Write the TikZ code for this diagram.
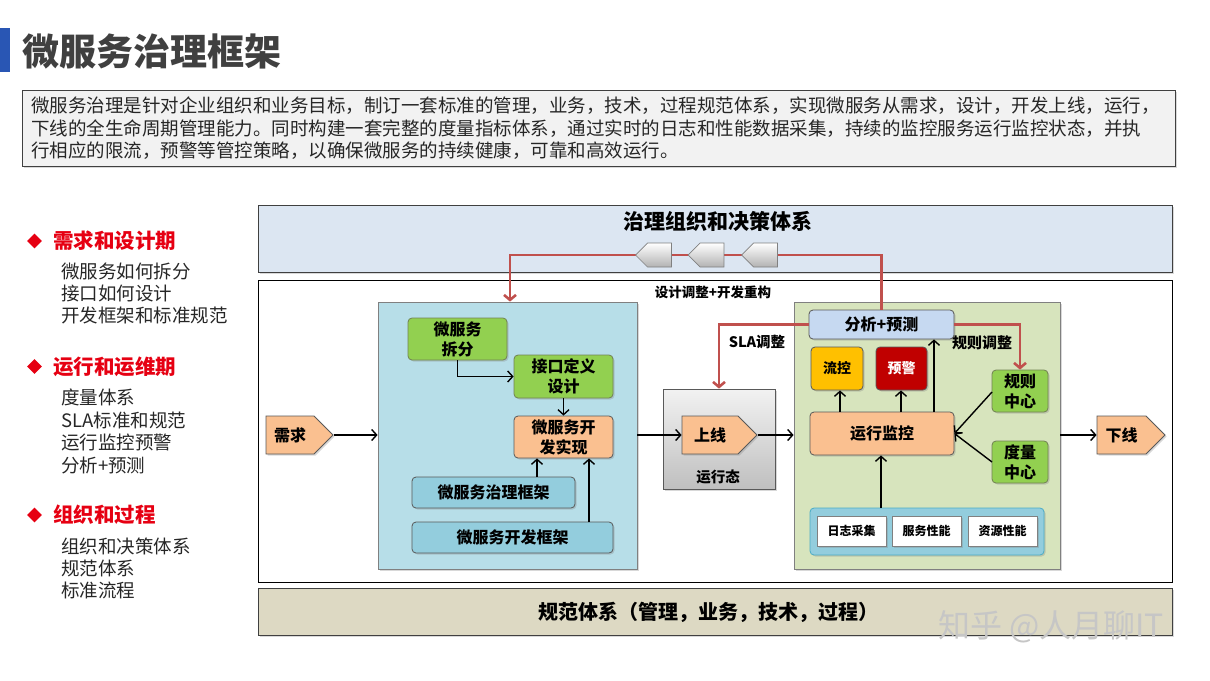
\documentclass[tikz,border=0pt]{standalone}
\usepackage{fontspec}
\setmainfont{Noto Sans CJK SC}
\usetikzlibrary{arrows.meta,shapes.symbols,shapes.geometric,shadows}
\definecolor{titleblue}{RGB}{41,86,180}
\definecolor{titlegray}{RGB}{64,64,64}
\definecolor{descgray}{RGB}{242,242,242}
\definecolor{txt}{RGB}{38,38,38}
\definecolor{cred}{RGB}{230,0,18}
\definecolor{bandblue}{RGB}{220,230,242}
\definecolor{devblue}{RGB}{183,222,232}
\definecolor{cgreen}{RGB}{146,208,80}
\definecolor{cgreenb}{RGB}{79,98,40}
\definecolor{corange}{RGB}{250,192,144}
\definecolor{fwblue}{RGB}{147,205,221}
\definecolor{opsgreen}{RGB}{215,228,189}
\definecolor{fxblue}{RGB}{198,217,241}
\definecolor{cyellow}{RGB}{255,192,0}
\definecolor{cdarkred}{RGB}{192,0,0}
\definecolor{panelblue}{RGB}{147,205,221}
\definecolor{panelblueb}{RGB}{75,172,198}
\definecolor{beige}{RGB}{221,217,195}
\definecolor{redline}{RGB}{192,80,77}
\definecolor{bord}{RGB}{89,89,89}
\newcommand\fsz[1]{\fontsize{#1}{#1}\selectfont}
\newcommand\fszl[2]{\fontsize{#1}{#2}\selectfont}
\tikzset{
  shd/.style={drop shadow={opacity=0.3,shadow xshift=1.5pt,shadow yshift=-1.5pt}},
  rbox/.style={rectangle, rounded corners=4pt, draw=bord, line width=0.8pt, inner sep=0pt,
    align=center, font=\bfseries\fszl{16}{20}, text=black, shd},
  greenbox/.style={rbox, fill=cgreen, draw=cgreenb!80},
  orangebox/.style={rbox, fill=corange},
  fwbox/.style={rbox, fill=fwblue},
  smallbox/.style={rectangle, draw=gray, fill=white, line width=0.6pt, inner sep=0pt,
    minimum width=69, minimum height=30, font=\bfseries\fsz{12}, shd},
  pent/.style={signal, signal from=nowhere, signal to=east, signal pointer angle=90,
    draw=bord, line width=0.8pt, fill=corange, inner sep=0pt, font=\bfseries\fsz{16}, shd},
  gpent/.style={signal, signal from=nowhere, signal to=west, signal pointer angle=90,
    draw=gray, line width=0.7pt, top color=white, bottom color=gray!60, inner sep=0pt,
    minimum width=36, minimum height=24},
  arr/.style={line width=1.4pt, -{Straight Barb[length=5pt,width=11pt]}},
  rarr/.style={line width=2.6pt, redline, -{Straight Barb[length=5pt,width=12pt]}},
  sub/.style={anchor=west, inner sep=0pt, font=\fsz{18.5}, text=txt},
  hdr/.style={anchor=west, inner sep=0pt, font=\bfseries\fsz{20.5}, text=cred},
  dia/.style={diamond, fill=cred, minimum width=15, minimum height=15, inner sep=0pt},
  dline/.style={anchor=west, inner sep=0pt, font=\fsz{18.5}, text=txt},
  lbl/.style={inner sep=0pt, font=\bfseries\fsz{14}, text=black}
}
\begin{document}
\begin{tikzpicture}[x=1pt,y=-1pt]
\useasboundingbox (0,0) rectangle (1210,680);
% title
\fill[titleblue] (0,28) rectangle (10,72);
\node[anchor=west, inner sep=0pt, font=\bfseries\fsz{37}, text=titlegray] (title) at (22,51) {微服务治理框架};
% description
\node[draw=titlegray, fill=descgray, line width=0.8pt, minimum width=1153, minimum height=76, inner sep=0pt, shd] (desc) at (598.5,128) {};
\node[dline] (d1) at (31,106) {微服务治理是针对企业组织和业务目标，制订一套标准的管理，业务，技术，过程规范体系，实现微服务从需求，设计，开发上线，运行，};
\node[dline] (d2) at (31,128.5) {下线的全生命周期管理能力。同时构建一套完整的度量指标体系，通过实时的日志和性能数据采集，持续的监控服务运行监控状态，并执};
\node[dline] (d3) at (31,151) {行相应的限流，预警等管控策略，以确保微服务的持续健康，可靠和高效运行。};
% left column
\node[dia] (dm1) at (34.5,241) {};
\node[hdr] (h1) at (53,241) {需求和设计期};
\node[sub] (s11) at (61,271.5) {微服务如何拆分};
\node[sub] (s12) at (61,293.5) {接口如何设计};
\node[sub] (s13) at (61,315.5) {开发框架和标准规范};
\node[dia] (dm2) at (34.5,366.5) {};
\node[hdr] (h2) at (53,366.5) {运行和运维期};
\node[sub] (s21) at (61,397.5) {度量体系};
\node[sub] (s22) at (61,420) {SLA标准和规范};
\node[sub] (s23) at (61,442.5) {运行监控预警};
\node[sub] (s24) at (61,465) {分析+预测};
\node[dia] (dm3) at (34.5,515) {};
\node[hdr] (h3) at (53,515) {组织和过程};
\node[sub] (s31) at (61,546) {组织和决策体系};
\node[sub] (s32) at (61,568) {规范体系};
\node[sub] (s33) at (61,590) {标准流程};
% bands
\node[draw=titlegray, fill=bandblue, line width=0.8pt, minimum width=914, minimum height=67, inner sep=0pt, shd] (top) at (715,238.5) {};
\node[inner sep=0pt, font=\bfseries\fsz{21}] (topt) at (717.5,221) {治理组织和决策体系};
\node[draw=black, fill=white, line width=0.8pt, minimum width=914, minimum height=302, inner sep=0pt] (main) at (715,431) {};
\node[draw=titlegray, fill=beige, line width=0.8pt, minimum width=914, minimum height=47, inner sep=0pt, shd] (bot) at (715,611.5) {};
\node[inner sep=0pt, font=\bfseries\fsz{20}] (bott) at (708.5,612) {规范体系（管理，业务，技术，过程）};
% dev area
\node[draw=gray, fill=devblue, line width=0.8pt, minimum width=259, minimum height=267, inner sep=0pt, shd] (dev) at (507.5,435.5) {};
\node[greenbox, minimum width=99, minimum height=42] (cf) at (457.5,339) {微服务\\拆分};
\node[greenbox, minimum width=99, minimum height=43] (jk) at (563.5,376.5) {接口定义\\设计};
\node[orangebox, minimum width=99, minimum height=42] (kf) at (563.5,437) {微服务开\\发实现};
\node[fwbox, minimum width=163, minimum height=31] (zl) at (493.5,492.5) {微服务治理框架};
\node[fwbox, minimum width=201, minimum height=31] (kj) at (512.5,537.5) {微服务开发框架};
\node[pent, minimum width=67, minimum height=38] (xq) at (290,435) {需求};
% run state
\node[draw=bord, line width=0.8pt, top color=descgray, bottom color=gray!50, minimum width=112, minimum height=100, inner sep=0pt, shd] (yxt) at (719,439) {};
\node[pent, minimum width=75, minimum height=38] (sx) at (710,435) {上线};
\node[inner sep=0pt, font=\bfseries\fsz{14.5}] (yxtl) at (718,477) {运行态};
% ops area
\node[draw=gray, fill=opsgreen, line width=0.8pt, minimum width=266, minimum height=267, inner sep=0pt, shd] (ops) at (927,435.5) {};
\node[rbox, fill=fxblue, minimum width=145, minimum height=29] (fx) at (881.5,324.5) {分析+预测};
\node[rbox, fill=cyellow, minimum width=52, minimum height=43, font=\bfseries\fsz{14}] (lk) at (837,368.5) {流控};
\node[rbox, fill=cdarkred, minimum width=51, minimum height=43, font=\bfseries\fsz{14}, text=white] (yj) at (901.5,368.5) {预警};
\node[orangebox, minimum width=144, minimum height=43] (jc) at (882,433.5) {运行监控};
\node[greenbox, minimum width=56, minimum height=42] (gz) at (1020,391) {规则\\中心};
\node[greenbox, minimum width=56, minimum height=42] (dl) at (1020,462) {度量\\中心};
\node[rbox, fill=panelblue, draw=panelblueb, minimum width=234, minimum height=47] (pn) at (927,531.5) {};
\node[smallbox] (rz) at (851.5,531) {日志采集};
\node[smallbox] (fw) at (926.5,531) {服务性能};
\node[smallbox] (zy) at (1002.5,531) {资源性能};
\node[pent, minimum width=68, minimum height=38] (xx) at (1121.5,435) {下线};
% black connectors
\draw[arr] (xq.east) -- (xq.east -| dev.west);
\draw[arr] (cf.south) |- (jk.west);
\draw[arr] (jk.south) -- (kf.north);
\coordinate (zla) at (537,477);
\coordinate (kja) at (589,522);
\draw[arr] (zla) -- (zla |- kf.south);
\draw[arr] (kja) -- (kja |- kf.south);
\draw[arr] (sx.west -| dev.east) -- (sx.west);
\draw[arr] (sx.east) -- (sx.east -| ops.west);
\draw[arr] (xx.west -| ops.east) -- (xx.west);
\coordinate (jla) at (840,412);
\coordinate (jlb) at (901,412);
\coordinate (jlc) at (934,412);
\coordinate (pna) at (881,508);
\draw[arr] (jla) -- (jla |- lk.south);
\draw[arr] (jlb) -- (jlb |- yj.south);
\draw[arr] (jlc) -- (jlc |- fx.south);
\draw[arr] (pna) -- (pna |- jc.south);
\coordinate (gza) at (992,392);
\coordinate (dla) at (992,462);
\draw[arr] (gza) -- (jc.east);
\draw[arr] (dla) -- (jc.east);
% red connectors
\coordinate (rd) at (510,255);
\draw[rarr] (fx.north) |- (rd) -- (rd |- dev.north);
\draw[rarr] (fx.west) -| (yxt.north);
\draw[rarr] (fx.east) -| (gz.north);
\node[gpent] (p1) at (659.5,255) {};
\node[gpent] (p2) at (712,255) {};
\node[gpent] (p3) at (765.5,255) {};
% labels
\node[lbl, font=\bfseries\fsz{13.5}] (l1) at (713,292) {设计调整+开发重构};
\node[lbl, font=\bfseries\fsz{14.5}] (l2) at (757,342) {SLA调整};
\node[lbl, font=\bfseries\fsz{15}] (l3) at (982,343) {规则调整};
% watermark
\node[inner sep=0pt, font=\fsz{32}, text=gray!45] (wm) at (1051,627) {知乎 @人月聊IT};
\end{tikzpicture}
\end{document}
